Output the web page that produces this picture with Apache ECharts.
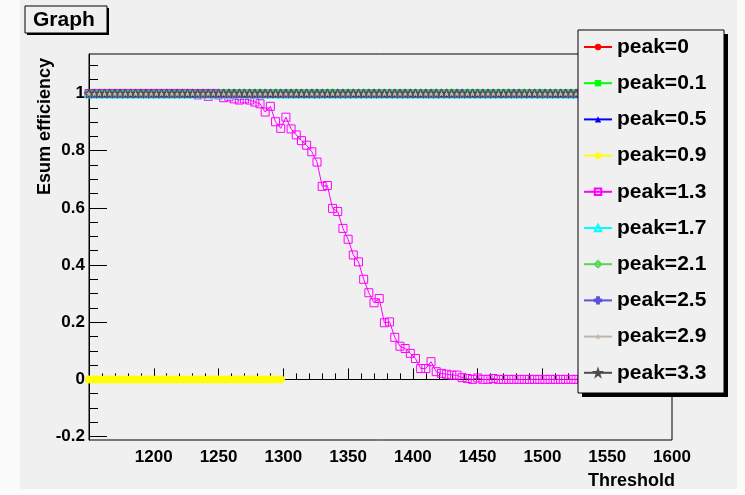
<!DOCTYPE html>
<html>
<head>
<meta charset="utf-8">
<script src="https://cdn.jsdelivr.net/npm/echarts@6/dist/echarts.min.js"></script>
<style>
  html, body { margin: 0; padding: 0; background: #fbfbfb; }
  #chart { width: 745px; height: 495px; }
</style>
</head>
<body>
<div id="chart"></div>
<script>
// Threshold scan points (ADC counts)
const thresholds = [
  1150, 1154, 1158, 1162, 1166, 1170, 1174, 1178, 1182, 1186,
  1190, 1194, 1198, 1202, 1206, 1210, 1214, 1218, 1222, 1226,
  1230, 1234, 1238, 1242, 1246, 1250, 1254, 1258, 1262, 1266,
  1270, 1274, 1278, 1282, 1286, 1290, 1294, 1298, 1302, 1306,
  1310, 1314, 1318, 1322, 1326, 1330, 1334, 1338, 1342, 1346,
  1350, 1354, 1358, 1362, 1366, 1370, 1374, 1378, 1382, 1386,
  1390, 1394, 1398, 1402, 1406, 1410, 1414, 1418, 1422, 1426,
  1430, 1434, 1438, 1442, 1446, 1450, 1454, 1458, 1462, 1466,
  1470, 1474, 1478, 1482, 1486, 1490, 1494, 1498, 1502, 1506,
  1510, 1514, 1518, 1522, 1526, 1530, 1534, 1538, 1542, 1546,
  1550, 1554, 1558, 1562, 1566, 1570, 1574, 1578, 1582, 1586,
  1590, 1594, 1598
];

// Legend labels, one per peak setting
const peakNames = [
  'peak=0', 'peak=0.1', 'peak=0.5', 'peak=0.9', 'peak=1.3',
  'peak=1.7', 'peak=2.1', 'peak=2.5', 'peak=2.9', 'peak=3.3'
];

// Fully efficient settings: efficiency 1 at every threshold
const effFull = [
  1, 1, 1, 1, 1, 1, 1, 1, 1, 1,
  1, 1, 1, 1, 1, 1, 1, 1, 1, 1,
  1, 1, 1, 1, 1, 1, 1, 1, 1, 1,
  1, 1, 1, 1, 1, 1, 1, 1, 1, 1,
  1, 1, 1, 1, 1, 1, 1, 1, 1, 1,
  1, 1, 1, 1, 1, 1, 1, 1, 1, 1,
  1, 1, 1, 1, 1, 1, 1, 1, 1, 1,
  1, 1, 1, 1, 1, 1, 1, 1, 1, 1,
  1, 1, 1, 1, 1, 1, 1, 1, 1, 1,
  1, 1, 1, 1, 1, 1, 1, 1, 1, 1,
  1, 1, 1, 1, 1, 1, 1, 1, 1, 1,
  1, 1, 1
];

// peak=0.9: only scanned up to 1298, efficiency 0
const effPeak09 = [
  0, 0, 0, 0, 0, 0, 0, 0, 0, 0,
  0, 0, 0, 0, 0, 0, 0, 0, 0, 0,
  0, 0, 0, 0, 0, 0, 0, 0, 0, 0,
  0, 0, 0, 0, 0, 0, 0, 0
];

// peak=1.3: turn-on curve
const effPeak13 = [
  1, 1, 1, 1, 1, 1, 1, 1, 1, 1,
  1, 1, 1, 1, 1, 1, 1, 1, 1, 1,
  1, 0.995, 1, 0.99, 1, 0.995, 0.985, 0.988, 0.981, 0.977,
  0.981, 0.977, 0.970, 0.964, 0.935, 0.955, 0.901, 0.878, 0.917, 0.876,
  0.855, 0.835, 0.819, 0.796, 0.760, 0.675, 0.678, 0.598, 0.587, 0.528,
  0.490, 0.435, 0.411, 0.350, 0.303, 0.268, 0.283, 0.198, 0.201, 0.147,
  0.116, 0.108, 0.091, 0.073, 0.038, 0.038, 0.062, 0.027, 0.021, 0.018,
  0.015, 0.015, 0.006, 0.003, 0, 0.005, 0, 0, 0.003, 0,
  0, 0, 0, 0, 0, 0, 0, 0, 0, 0,
  0, 0, 0, 0, 0, 0, 0, 0, 0, 0,
  0, 0, 0, 0, 0, 0, 0, 0, 0, 0,
  0, 0, 0
];

// Efficiency values per legend entry
const peakValues = [
  effFull, effFull, effFull, effPeak09, effPeak13,
  effFull, effFull, effFull, effFull, effFull
];

// Axis ticks
const yMajorTicks = [-0.2, 0, 0.2, 0.4, 0.6, 0.8, 1];
const yMinorTicks = [
  -0.15, -0.1, -0.05, 0.05, 0.1, 0.15, 0.25, 0.3, 0.35, 0.45,
  0.5, 0.55, 0.65, 0.7, 0.75, 0.85, 0.9, 0.95, 1.05, 1.1
];

// Marker shapes
const STAR = 'path://M50,0 L61.17,34.63 L97.55,34.55 L68.07,55.87 L79.39,90.45 L50,69 L20.61,90.45 L31.93,55.87 L2.45,34.55 L38.83,34.63 Z';
const CROSS = 'path://M35,0 H65 V35 H100 V65 H65 V100 H35 V65 H0 V35 H35 Z';

const markerStyles = [
  { color: '#ff0000', symbol: 'circle',   filled: true,  size: 8 },
  { color: '#00ff00', symbol: 'rect',     filled: true,  size: 8 },
  { color: '#0000ff', symbol: 'triangle', filled: true,  size: 8 },
  { color: '#ffff00', symbol: 'circle',   filled: true,  size: 8 },
  { color: '#ff00ff', symbol: 'rect',     filled: false, size: 8 },
  { color: '#00ffff', symbol: 'triangle', filled: false, size: 9 },
  { color: '#59d454', symbol: 'diamond',  filled: false, size: 9 },
  { color: '#5954d8', symbol: CROSS,      filled: false, size: 8 },
  { color: '#c0b6ac', symbol: STAR,       filled: true,  size: 9 },
  { color: '#4c4c4c', symbol: STAR,       filled: false, size: 9 }
];

const FONT = '"Liberation Sans", Arial, Helvetica, sans-serif';

const series = peakNames.map((name, i) => {
  const st = markerStyles[i];
  const vals = peakValues[i];
  return {
    type: 'line',
    name: name,
    data: vals.map((v, k) => [thresholds[k], v]),
    symbol: st.symbol,
    symbolSize: st.size,
    lineStyle: { color: st.color, width: 1 },
    itemStyle: st.filled
      ? { color: st.color }
      : { color: 'rgba(0,0,0,0)', borderColor: st.color, borderWidth: 1 },
    emphasis: { disabled: true },
    z: 2
  };
});

const chart = echarts.init(document.getElementById('chart'), null, { renderer: 'canvas' });

chart.setOption({
  animation: false,
  backgroundColor: '#f0f0f0',
  textStyle: { fontFamily: FONT },
  grid: {
    left: 89, top: 54, right: 73, bottom: 55,
    show: true, borderColor: '#000', borderWidth: 1,
    backgroundColor: 'transparent'
  },
  xAxis: [{
    type: 'value', min: 1150, max: 1600, interval: 50, position: 'bottom',
    axisLine: { show: true, lineStyle: { color: '#000', width: 1 } },
    axisTick: { show: true, inside: true, length: 11, lineStyle: { color: '#000' } },
    minorTick: { show: true, splitNumber: 5, length: 6, lineStyle: { color: '#000' } },
    axisLabel: {
      showMinLabel: false, showMaxLabel: true, margin: 9,
      color: '#000', fontSize: 17, fontWeight: 'bold', fontFamily: FONT,
      formatter: v => String(v)
    },
    splitLine: { show: false },
    minorSplitLine: { show: false }
  }],
  yAxis: [{
    type: 'value', min: -0.212, max: 1.138, position: 'left',
    axisLine: { show: true, lineStyle: { color: '#000', width: 1 } },
    axisTick: { show: true, inside: true, length: 18, customValues: yMajorTicks, lineStyle: { color: '#000' } },
    axisLabel: {
      customValues: yMajorTicks, margin: 4,
      color: '#000', fontSize: 17, fontWeight: 'bold', fontFamily: FONT,
      formatter: v => String(v)
    },
    splitLine: { show: false }
  }, {
    type: 'value', min: -0.212, max: 1.138, position: 'left', offset: 0,
    axisLine: { show: false },
    axisTick: { show: true, inside: true, length: 9, customValues: yMinorTicks, lineStyle: { color: '#000' } },
    axisLabel: { show: false },
    splitLine: { show: false }
  }],
  legend: {
    orient: 'vertical',
    left: 583, top: 36,
    padding: 0,
    itemWidth: 28, itemHeight: 8, itemGap: 14.2,
    selectedMode: false,
    data: peakNames,
    textStyle: { color: '#000', fontSize: 21, fontWeight: 'bold', fontFamily: FONT, lineHeight: 22 },
    z: 20
  },
  graphic: [
    // light margins around the canvas
    { type: 'rect', shape: { x: 0, y: 0, width: 20, height: 495 }, style: { fill: '#fbfbfb' }, z: -1, silent: true },
    { type: 'rect', shape: { x: 0, y: 489, width: 745, height: 6 }, style: { fill: '#fbfbfb' }, z: -1, silent: true },
    { type: 'rect', shape: { x: 737, y: 0, width: 8, height: 495 }, style: { fill: '#fbfbfb' }, z: -1, silent: true },
    // title box
    { type: 'rect', shape: { x: 27, y: 8, width: 82, height: 27 }, style: { fill: '#000' }, z: 10, silent: true },
    { type: 'rect', shape: { x: 25, y: 6, width: 82, height: 27 }, style: { fill: '#f0f0f0', stroke: '#000', lineWidth: 1 }, z: 11, silent: true },
    { type: 'text', x: 33, y: 20, style: { text: 'Graph', fill: '#000', fontSize: 21, fontWeight: 'bold', fontFamily: FONT, align: 'left', verticalAlign: 'middle' }, z: 12, silent: true },
    // legend frame
    { type: 'rect', shape: { x: 582, y: 34, width: 146, height: 363 }, style: { fill: '#000' }, z: 10, silent: true },
    { type: 'rect', shape: { x: 578, y: 30, width: 146, height: 363 }, style: { fill: '#f0f0f0', stroke: '#000', lineWidth: 1 }, z: 11, silent: true },
    // axis titles
    { type: 'text', x: 675, y: 481, style: { text: 'Threshold', fill: '#000', fontSize: 18, fontWeight: 'bold', fontFamily: FONT, align: 'right', verticalAlign: 'middle' }, z: 12, silent: true },
    { type: 'text', x: 45, y: 58, rotation: Math.PI / 2, style: { text: 'Esum efficiency', fill: '#000', fontSize: 18, fontWeight: 'bold', fontFamily: FONT, align: 'right', verticalAlign: 'middle' }, z: 12, silent: true }
  ],
  series: series
});
</script>
</body>
</html>
